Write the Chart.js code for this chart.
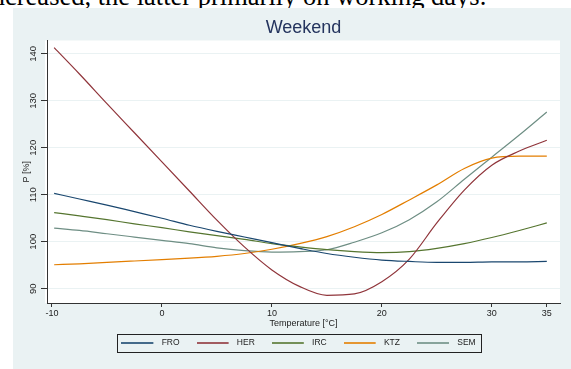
<!DOCTYPE html>
<html lang="en">

<head>
    <meta charset="UTF-8">
    <title>Weekend</title>
    <script src="https://cdn.jsdelivr.net/npm/chart.js"></script>
    <style>
        body { margin: 0; width: 571px; height: 369px; overflow: hidden; background: #fff; position: relative; }
        .doc_text {
            position: absolute; left: -15.6px; top: -17.2px; white-space: nowrap;
            font: 26.5px 'Liberation Serif', 'Times New Roman', serif; line-height: 26.5px; color: #000;
        }
        #grafico { position: absolute; left: 0; top: 0; }
    </style>
</head>

<body>
    <div class="doc_text">increased, the latter primarily on working days.</div>
    <canvas id="grafico" width="571" height="369"></canvas>

<script>
    const temps = [-9.8, -7.5, -5, -2.5, 0, 2.5, 5, 7.5, 10, 12.5, 15, 17.5, 20, 22.5, 25, 27.5, 30, 32.5, 35];

    const fro = [110.3, 109.1, 107.8, 106.4, 105.0, 103.5, 102.2, 101.0, 99.8, 98.6, 97.5, 96.7, 96.1, 95.8, 95.6, 95.6, 95.7, 95.7, 95.8];
    const her = [141.3, 135.7, 129.4, 123.2, 117.0, 110.8, 104.6, 98.9, 94.0, 90.5, 88.6, 88.9, 91.5, 96.3, 104.0, 111.0, 116.3, 119.3, 121.6];
    const irc = [106.2, 105.5, 104.7, 103.8, 103.0, 102.1, 101.3, 100.5, 99.6, 98.9, 98.3, 97.9, 97.7, 97.9, 98.6, 99.6, 100.9, 102.4, 104.0];
    const ktz = [95.1, 95.3, 95.6, 95.9, 96.2, 96.5, 96.9, 97.5, 98.4, 99.6, 101.1, 103.2, 105.8, 108.9, 112.1, 115.6, 117.8, 118.2, 118.2];
    const sem = [102.9, 102.4, 101.7, 101.0, 100.3, 99.6, 98.7, 98.1, 97.8, 97.9, 98.3, 99.9, 101.9, 104.7, 108.5, 113.3, 118.0, 122.7, 127.6];

    const nomes = ['FRO', 'HER', 'IRC', 'KTZ', 'SEM'];
    const series = [fro, her, irc, ktz, sem];
    const cores = ['#1a476f', '#90353b', '#55752f', '#e37e00', '#6e8e84'];

    const xTicks = [-10, 0, 10, 20, 30, 35];
    const yTicks = [90, 100, 110, 120, 130, 140];

    const fonte = "'Liberation Sans', Arial, sans-serif";
    Chart.defaults.font.family = fonte;

    // short line sample for the legend (line, then a gap before the text)
    function amostra(cor) {
        const c = document.createElement('canvas');
        c.width = 36;
        c.height = 2;
        const g = c.getContext('2d');
        g.globalAlpha = 0.8;
        g.fillStyle = cor;
        g.fillRect(0, 0, 32, 2);
        return c;
    }

    const fundo = {
        id: 'fundo',
        beforeDraw(chart) {
            const { ctx, chartArea: a } = chart;
            ctx.save();
            ctx.fillStyle = '#eaf2f3';
            ctx.fillRect(13, 8, chart.width - 13, chart.height - 8);
            ctx.fillStyle = '#ffffff';
            ctx.fillRect(a.left - 2, a.top, a.right - a.left + 2, a.bottom - a.top);
            ctx.restore();
        },
        afterDraw(chart) {
            const ctx = chart.ctx;

            // y tick labels, turned to read upwards like the original
            const ys = chart.scales.y;
            ctx.save();
            ctx.fillStyle = '#222';
            ctx.font = '9.5px ' + fonte;
            ctx.textAlign = 'center';
            ctx.textBaseline = 'middle';
            ys.ticks.forEach(function (t) {
                ctx.save();
                ctx.translate(ys.right - 14, ys.getPixelForValue(t.value));
                ctx.rotate(-Math.PI / 2);
                ctx.fillText(String(t.value), 0, 0);
                ctx.restore();
            });
            ctx.restore();

            // box round the legend
            const hb = chart.legend.legendHitBoxes;
            if (!hb || !hb.length) return;
            const first = hb[0], last = hb[hb.length - 1];
            const x0 = Math.round(first.left - 4);
            const x1 = Math.round(last.left + last.width + 5);
            const cy = first.top + first.height / 2;
            ctx.save();
            ctx.strokeStyle = '#222';
            ctx.lineWidth = 1;
            ctx.strokeRect(x0 + 0.5, Math.round(cy - 9) + 0.5, x1 - x0, 18);
            ctx.restore();
        }
    };

    const ctx = document.getElementById('grafico').getContext('2d');
    new Chart(ctx, {
        type: 'line',
        data: {
            datasets: series.map(function (s, i) {
                return {
                    label: nomes[i],
                    data: s.map((v, j) => ({ x: temps[j], y: v })),
                    borderColor: cores[i],
                    backgroundColor: cores[i],
                    borderWidth: 1.2,
                    pointRadius: 0,
                    pointStyle: amostra(cores[i]),
                    cubicInterpolationMode: 'monotone',
                    fill: false
                };
            })
        },
        options: {
            responsive: false,
            animation: false,
            layout: { padding: { left: 37, right: 11, top: 0, bottom: 11.75 } },
            plugins: {
                title: {
                    display: true,
                    text: 'Weekend',
                    fullSize: false,
                    color: '#24345e',
                    font: { size: 18, weight: 'normal' },
                    padding: { top: 17.7, bottom: 1.2 }
                },
                legend: {
                    position: 'bottom',
                    labels: {
                        usePointStyle: true,
                        pointStyleWidth: 36,
                        padding: 17,
                        color: '#222',
                        font: { size: 8.5 }
                    }
                },
                tooltip: { enabled: false }
            },
            scales: {
                x: {
                    type: 'linear',
                    min: -10.45,
                    max: 36.2,
                    afterBuildTicks: s => { s.ticks = xTicks.map(v => ({ value: v })); },
                    afterFit: s => { s.height = 18.75; },
                    border: { display: true, color: '#333', width: 1 },
                    grid: { drawOnChartArea: false, drawTicks: true, tickColor: '#333', tickLength: 4 },
                    ticks: { autoSkip: false, maxRotation: 0, padding: 1, color: '#222', font: { size: 9 } },
                    title: {
                        display: true,
                        text: 'Temperature [°C]',
                        color: '#222',
                        font: { size: 9 },
                        padding: { top: 0, bottom: -7 }
                    }
                },
                y: {
                    min: 86.96,
                    max: 142.83,
                    afterBuildTicks: s => { s.ticks = yTicks.map(v => ({ value: v })); },
                    afterFit: s => { s.width = 10; },
                    border: { display: true, color: '#333', width: 1 },
                    grid: { color: '#eaf2f3', lineWidth: 1, drawTicks: true, tickColor: '#333', tickLength: 6 },
                    ticks: { display: false },
                    title: {
                        display: true,
                        text: 'P [%]',
                        color: '#222',
                        font: { size: 9 },
                        padding: { top: -15.7, bottom: 0 }
                    }
                }
            }
        },
        plugins: [fundo]
    });
</script>
</body>

</html>
